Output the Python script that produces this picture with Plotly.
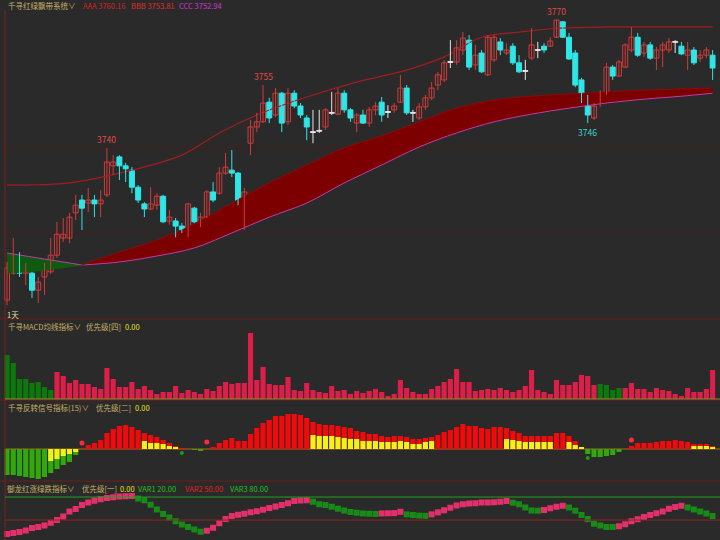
import plotly.graph_objects as go

BG = "#2a2a2a"

# ---------------- main panel candles (price) ----------------
opens = [3704.8,3711.1,3715.1,3711.1,3711.1,3707.1,3710.2,3711.4,3715.3,3719.3,
         3719.3,3725.2,3728.2,3727.5,3728.2,3727.3,3729.4,3736.2,3738.3,3736.2,
         3735.2,3731.2,3727.3,3726.1,3727.0,3729.1,3723.3,3723.3,3722.1,3720.2,
         3726.3,3722.4,3724.2,3730.1,3729.8,3734.5,3735.2,3734.5,3727.0,3741.5,
         3745.3,3746.5,3751.1,3748.1,3753.2,3746.5,3753.2,3750.2,3747.4,3744.1,
         3744.4,3745.3,3748.6,3748.3,3753.2,3749.3,3746.2,3748.1,3746.2,3749.3,
         3751.1,3748.8,3749.3,3751.1,3754.4,3748.6,3747.4,3750.0,3752.1,3755.1,
         3756.3,3760.5,3760.5,3763.3,3765.6,3759.8,3762.6,3757.5,3761.0,3765.2,
         3762.6,3764.2,3760.3,3758.4,3761.4,3763.3,3764.2,3764.2,3766.3,3769.9,
         3766.3,3762.6,3756.3,3752.3,3747.4,3751.1,3753.2,3759.3,3757.2,3759.3,
         3763.3,3766.3,3762.6,3764.5,3761.4,3763.3,3763.3,3765.2,3764.2,3762.1,
         3763.3,3761.4,3762.1,3762.1]
highs = [3713.7,3719.3,3716.0,3713.5,3711.4,3710.2,3713.5,3719.3,3723.1,3724.0,
         3725.2,3729.4,3729.4,3731.0,3729.4,3730.5,3740.4,3738.7,3738.7,3736.9,
         3735.9,3731.7,3727.7,3731.2,3729.8,3729.4,3725.9,3724.0,3722.8,3727.5,
         3726.6,3725.2,3730.5,3732.4,3735.9,3739.2,3739.9,3734.8,3731.0,3746.9,
         3748.6,3755.1,3752.1,3754.4,3753.5,3754.4,3753.9,3750.9,3748.1,3749.3,
         3749.3,3749.7,3753.5,3754.4,3753.9,3749.7,3748.6,3749.3,3750.0,3751.1,
         3752.3,3750.4,3750.9,3757.5,3755.1,3749.3,3750.9,3752.8,3755.8,3758.2,
         3761.0,3765.6,3765.6,3767.5,3766.8,3764.5,3763.3,3766.8,3766.8,3766.1,
         3764.9,3764.9,3762.1,3761.0,3768.4,3765.2,3764.9,3766.3,3770.4,3770.1,
         3767.3,3763.3,3756.8,3752.8,3750.9,3753.9,3760.3,3759.8,3761.0,3764.9,
         3768.7,3767.3,3765.2,3765.2,3764.0,3765.2,3766.1,3765.6,3765.2,3765.2,
         3764.0,3763.3,3764.0,3763.3]
lows = [3703.6,3710.7,3710.2,3708.3,3705.3,3704.1,3706.0,3710.9,3714.6,3718.4,
        3718.1,3723.5,3721.2,3725.4,3724.2,3724.2,3728.9,3734.1,3732.9,3732.4,
        3729.8,3727.5,3724.2,3725.9,3725.9,3722.8,3722.4,3719.5,3720.5,3719.5,
        3722.8,3721.9,3724.0,3727.7,3729.4,3734.1,3733.6,3727.0,3721.2,3738.7,
        3744.1,3746.2,3746.2,3747.6,3744.1,3745.8,3749.7,3747.4,3742.2,3741.5,
        3743.9,3744.6,3748.1,3748.1,3748.6,3746.5,3744.1,3746.0,3745.3,3748.1,
        3746.5,3747.4,3748.6,3750.9,3748.1,3746.5,3746.9,3749.3,3751.6,3753.9,
        3755.8,3759.1,3759.8,3762.1,3758.6,3758.6,3757.9,3757.2,3760.5,3762.1,
        3762.1,3759.8,3757.9,3756.3,3761.0,3761.4,3762.6,3764.0,3766.1,3766.1,
        3761.0,3754.6,3750.9,3746.2,3746.9,3750.0,3752.8,3756.3,3757.0,3759.1,
        3762.8,3761.7,3761.7,3761.0,3758.6,3759.3,3762.6,3762.6,3762.1,3758.6,
        3759.8,3760.5,3761.4,3756.3]
closes = [3712.3,3715.3,3711.1,3712.3,3707.1,3709.0,3712.3,3715.3,3720.2,3720.2,
          3724.2,3727.0,3726.3,3728.2,3727.3,3728.2,3737.1,3737.1,3736.2,3735.5,
          3731.2,3728.2,3726.1,3727.3,3729.1,3723.1,3724.2,3722.1,3721.2,3727.3,
          3723.1,3724.2,3730.1,3728.2,3734.5,3735.9,3734.5,3727.3,3730.1,3745.3,
          3746.5,3750.9,3747.4,3753.2,3746.2,3753.2,3750.2,3748.1,3745.3,3744.1,
          3744.4,3749.3,3748.6,3753.2,3749.3,3747.4,3748.1,3746.2,3749.3,3750.2,
          3748.1,3748.8,3750.2,3754.4,3748.6,3748.6,3750.0,3752.1,3754.4,3757.5,
          3760.3,3760.5,3763.8,3766.1,3759.3,3762.1,3758.2,3766.3,3766.3,3763.3,
          3763.3,3760.3,3758.2,3758.4,3764.5,3763.3,3763.3,3765.4,3770.3,3766.3,
          3761.2,3755.1,3751.1,3748.1,3750.2,3753.2,3759.3,3757.2,3760.5,3764.5,
          3766.3,3762.1,3764.5,3761.4,3763.3,3764.5,3765.2,3765.2,3762.4,3763.3,
          3760.3,3762.1,3763.3,3759.1]

# ribbon (飘带) lines, sampled at these bar positions
rib_idx = [0, 6, 12, 18, 24, 30, 36, 42, 48, 54, 60, 66, 72, 78, 84, 90, 96, 102, 108, 113]
rib_fast = [3711.1,3711.8,3713.0,3716.0,3718.8,3722.6,3727.5,3732.2,3736.4,3740.4,
            3743.2,3746.5,3749.7,3751.6,3752.5,3753.0,3753.5,3753.9,3754.2,3754.4]
rib_slow = [3715.8,3714.4,3713.0,3713.7,3715.1,3717.0,3720.5,3724.2,3727.5,3732.2,
            3736.4,3740.6,3743.9,3746.5,3748.3,3749.7,3750.9,3751.8,3752.5,3753.2]
# upper envelope line
env_idx = [0, 10, 20, 28, 34, 40, 48, 56, 64, 70, 76, 82, 88, 96, 104, 113]
env_val = [3731.7,3732.2,3735.2,3738.7,3743.9,3748.1,3752.3,3755.8,3758.6,3761.7,
           3766.3,3767.5,3768.4,3768.7,3768.7,3768.7]

# ---------------- MACD panel ----------------
macd = [44,36,20,20,16,17,12,9,27,23,16,19,15,15,12,10,31,20,12,12,17,10,13,9,5,7,7,13,6,9,
        7,5,10,8,13,17,15,16,16,66,19,32,15,14,14,22,9,8,16,9,7,6,13,8,9,5,8,
        6,8,10,7,3,5,19,11,7,5,5,10,13,17,20,30,17,17,8,9,10,9,11,9,7,9,13,29,9,7,
        5,19,14,14,17,24,23,14,15,14,9,11,11,16,10,10,7,11,9,8,5,3,11,7,7,10,29]
macd_green = [0,1,2,3,4,5,6,7,95,96,97,98]

# ---------------- reversal signal panel ----------------
sig = [-26,-26,-27,-28,-29,-30,-28,-24,-20,-16,-13,-6,0,
       4,6,9,16,20,23,24,22,19,16,14,12,9,6,3,
       1,0,-1,-2,0,
       2,6,9,11,8,8,15,21,26,29,33,33,35,35,34,31,27,25,24,24,23,22,21,18,
       17,15,15,13,12,13,13,12,10,10,11,12,14,17,19,22,25,23,23,21,
       20,22,22,21,18,16,13,13,13,13,13,16,16,13,8,2,-5,-8,-8,-7,
       -6,-3,0,3,6,6,6,7,8,8,9,8,7,5,5,5,3]
yel = [0,0,0,0,0,0,0,-12,-10,-7,-5,-3,0,
       0,0,0,0,0,0,0,0,0,8,6,6,5,3,2,
       0,0,0,0,0,
       0,0,0,0,0,0,0,0,0,0,0,0,0,0,0,0,14,13,13,13,12,11,10,10,
       8,8,8,7,7,7,8,7,5,5,7,8,0,0,0,0,0,0,0,0,
       0,0,0,10,9,8,7,7,7,7,7,0,0,7,4,2,0,0,0,0,
       0,0,0,0,0,0,0,0,0,0,0,0,0,3,3,3,2]
dot_up_idx = [12, 32, 100]
dot_up_val = [6, 7, 9]
dot_dn_idx = [28, 93]
dot_dn_val = [-4, -9]

# ---------------- 御龙 oscillator ----------------
osc = [31.9,33.0,34.5,36.5,39.7,41.0,43.0,46.5,50.0,54.5,
       61.0,64.5,69.7,73.0,75.1,77.0,78.8,79.8,80.8,81.0,
       81.2,78.0,75.9,70.0,63.6,58.0,53.3,48.5,44.2,41.0,
       37.7,34.8,36.0,40.0,45.9,51.5,55.3,57.0,58.2,60.0,
       61.5,63.5,65.6,67.5,69.7,72.0,74.7,75.5,75.9,74.0,
       70.6,69.5,67.3,64.8,62.3,60.5,59.5,58.6,58.2,58.0,
       58.6,58.8,59.0,60.7,57.4,56.6,55.8,55.5,57.4,60.0,
       62.7,66.0,68.9,70.5,71.4,72.0,73.0,73.0,73.2,74.0,
       74.7,72.5,70.6,66.5,62.3,62.0,63.2,65.5,67.3,68.5,
       66.4,62.0,56.6,51.5,45.1,43.0,41.0,40.8,41.8,44.5,
       48.4,51.0,54.1,56.5,59.0,61.0,64.8,67.0,68.5,66.4,
       63.6,61.0,58.6,55.3]
VAR1, VAR2, VAR3 = 20.0, 50.0, 80.0

N = len(closes)
idx = list(range(N))

fig = go.Figure()

# ribbon: green part (before crossing) and red part
fig.add_trace(go.Scatter(x=rib_idx[:3], y=rib_slow[:3], mode="lines", line=dict(color="#c23aa8", width=1, shape="spline"),
                         xaxis="x", yaxis="y", hoverinfo="skip"))
fig.add_trace(go.Scatter(x=rib_idx[:3], y=rib_fast[:3], mode="lines", line=dict(color="#0f5a12", width=1, shape="spline"),
                         fill="tonexty", fillcolor="#0e5a10", xaxis="x", yaxis="y", hoverinfo="skip"))
fig.add_trace(go.Scatter(x=rib_idx[2:], y=rib_slow[2:], mode="lines", line=dict(color="#c23aa8", width=1, shape="spline"),
                         xaxis="x", yaxis="y", hoverinfo="skip"))
fig.add_trace(go.Scatter(x=rib_idx[2:], y=rib_fast[2:], mode="lines", line=dict(color="#8e0a0a", width=1, shape="spline"),
                         fill="tonexty", fillcolor="#7c0000", xaxis="x", yaxis="y", hoverinfo="skip"))
fig.add_trace(go.Scatter(x=env_idx, y=env_val, mode="lines", line=dict(color="#a11c22", width=1.2, shape="spline"),
                         xaxis="x", yaxis="y", hoverinfo="skip"))

# candles drawn as wicks + bodies
UPC, DNC, DJC = "#d23a3a", "#2fe6e6", "#e6e6e6"
groups = [
    ([i for i in idx if closes[i] > opens[i]], UPC, BG),
    ([i for i in idx if closes[i] < opens[i]], DNC, DNC),
    ([i for i in idx if closes[i] == opens[i]], DJC, DJC),
]
for ii, col, fill in groups:
    wx, wy = [], []
    for i in ii:
        wx += [i, i, None]
        wy += [lows[i], highs[i], None]
    fig.add_trace(go.Scatter(x=wx, y=wy, mode="lines", line=dict(color=col, width=1),
                             xaxis="x", yaxis="y", hoverinfo="skip"))
for ii, col, fill in groups:
    base = [min(opens[i], closes[i]) if opens[i] != closes[i] else opens[i] - 0.1 for i in ii]
    hgt = [abs(closes[i] - opens[i]) if opens[i] != closes[i] else 0.2 for i in ii]
    fig.add_trace(go.Bar(x=ii, y=hgt, base=base, width=0.8,
                         marker=dict(color=fill, line=dict(color=col, width=1)),
                         xaxis="x", yaxis="y", hoverinfo="skip"))

# MACD bars
macd_cols = ["#0b7a0b" if i in macd_green else "#dc1f48" for i in idx]
fig.add_trace(go.Bar(x=idx, y=macd, marker=dict(color=macd_cols, line=dict(width=0)), xaxis="x", yaxis="y2"))

# reversal signal bars
sig_cols = ["#f00a0a" if v > 0 else "#32a80c" for v in sig]
fig.add_trace(go.Bar(x=idx, y=sig, marker=dict(color=sig_cols, line=dict(width=0)), xaxis="x", yaxis="y3"))
fig.add_trace(go.Bar(x=idx, y=yel, marker=dict(color="#f2f21a", line=dict(width=0)), xaxis="x", yaxis="y3"))
fig.add_trace(go.Scatter(x=dot_up_idx, y=dot_up_val, mode="markers", marker=dict(color="#ff2a3a", size=5),
                         xaxis="x", yaxis="y3"))
fig.add_trace(go.Scatter(x=dot_dn_idx, y=dot_dn_val, mode="markers", marker=dict(color="#14a014", size=4),
                         xaxis="x", yaxis="y3"))

# oscillator squares
osc_cols = ["#e3306a" if (i == 0 or osc[i] >= osc[i - 1]) else "#178a17" for i in idx]
fig.add_trace(go.Scatter(x=idx, y=osc, mode="markers",
                         marker=dict(symbol="square", size=6, color=osc_cols, line=dict(width=0)),
                         xaxis="x", yaxis="y4"))

def py(p):  # pixel row -> paper
    return 1 - p / 540.0

def px(p):
    return p / 720.0

shapes = []
for yy in [319, 400, 481]:
    shapes.append(dict(type="line", xref="paper", yref="paper", x0=0, x1=1, y0=py(yy), y1=py(yy),
                       line=dict(color="#6e1c1c", width=1)))
shapes.append(dict(type="line", xref="paper", yref="paper", x0=px(5), x1=px(5), y0=0, y1=py(10),
                   line=dict(color="#7a2020", width=1)))
for gv in [3740.4, 3720.5]:
    shapes.append(dict(type="line", xref="paper", yref="y", x0=0, x1=1, y0=gv, y1=gv,
                       line=dict(color="#4a1e1e", width=1), layer="below"))
shapes.append(dict(type="line", xref="paper", yref="y2", x0=px(5), x1=1, y0=0, y1=0,
                   line=dict(color="#9a8a2a", width=1)))
shapes.append(dict(type="line", xref="paper", yref="y3", x0=px(5), x1=1, y0=0, y1=0,
                   line=dict(color="#8a5020", width=1.5), layer="below"))
shapes.append(dict(type="line", xref="paper", yref="y4", x0=px(5), x1=1, y0=VAR3, y1=VAR3,
                   line=dict(color="#22a022", width=1)))
shapes.append(dict(type="line", xref="paper", yref="y4", x0=px(5), x1=1, y0=VAR2, y1=VAR2,
                   line=dict(color="#8e2424", width=1)))

F = "Noto Sans CJK SC"
KH = "#c8b066"
YL = "#e6e01e"
header = [
    ("千寻红绿飘带系统∨", 6, 5, KH),
    ("AAA 3760.16", 81, 5, "#d42222"),
    ("BBB 3753.81", 129, 5, "#e02a2a"),
    ("CCC 3752.94", 177, 5, "#d232d2"),
    ("1天", 5, 314, "#e8e2a8"),
    ("千寻MACD均线指标∨", 6, 326, KH),
    ("优先级[四]", 84, 326, KH),
    ("0.00", 123, 326, YL),
    ("千寻反转信号指标(15)∨", 6, 407, KH),
    ("优先级[二]", 94, 407, KH),
    ("0.00", 133, 407, YL),
    ("御龙红涨绿跌指标∨", 5, 488, KH),
    ("优先级[一]", 80, 488, KH),
    ("0.00", 118, 488, YL),
    ("VAR1 %.2f" % VAR1, 136, 488, "#22c022"),
    ("VAR2 %.2f" % VAR2, 183, 488, "#e02222"),
    ("VAR3 %.2f" % VAR3, 228, 488, "#22c022"),
]
ann = []
for t, xx, yy, c in header:
    ann.append(dict(text=t, x=px(xx), y=py(yy), xref="paper", yref="paper", xanchor="left", yanchor="middle",
                    showarrow=False, font=dict(family=F, size=7.5, color=c)))

for i in [16, 41, 88]:
    ann.append(dict(text="%d" % round(highs[i]), x=i, y=highs[i], xref="x", yref="y", xanchor="center",
                    yanchor="bottom", yshift=1, showarrow=False, font=dict(family=F, size=8.5, color="#e04848")))
ann.append(dict(text="%d" % round(lows[93]), x=93, y=lows[93], xref="x", yref="y", xanchor="center",
                yanchor="top", yshift=-1, showarrow=False, font=dict(family=F, size=8.5, color="#3fd2d2")))

fig.update_layout(
    width=720, height=540, margin=dict(l=0, r=0, t=0, b=0),
    paper_bgcolor=BG, plot_bgcolor=BG, showlegend=False,
    barmode="overlay", bargap=0.18,
    xaxis=dict(domain=[0.0054, 0.9941], range=[-0.5, 113.5], visible=False),
    yaxis=dict(domain=[0.4111, 0.9778], range=[3700.6, 3772.2], visible=False),
    yaxis2=dict(domain=[0.2593, 0.4074], range=[-1, 79], visible=False, anchor="x"),
    yaxis3=dict(domain=[0.1093, 0.2593], range=[-32, 49], visible=False, anchor="x"),
    yaxis4=dict(domain=[0.0, 0.1093], range=[24.0, 100.9], visible=False, anchor="x"),
    shapes=shapes, annotations=ann,
)

fig.write_html("out.html")
